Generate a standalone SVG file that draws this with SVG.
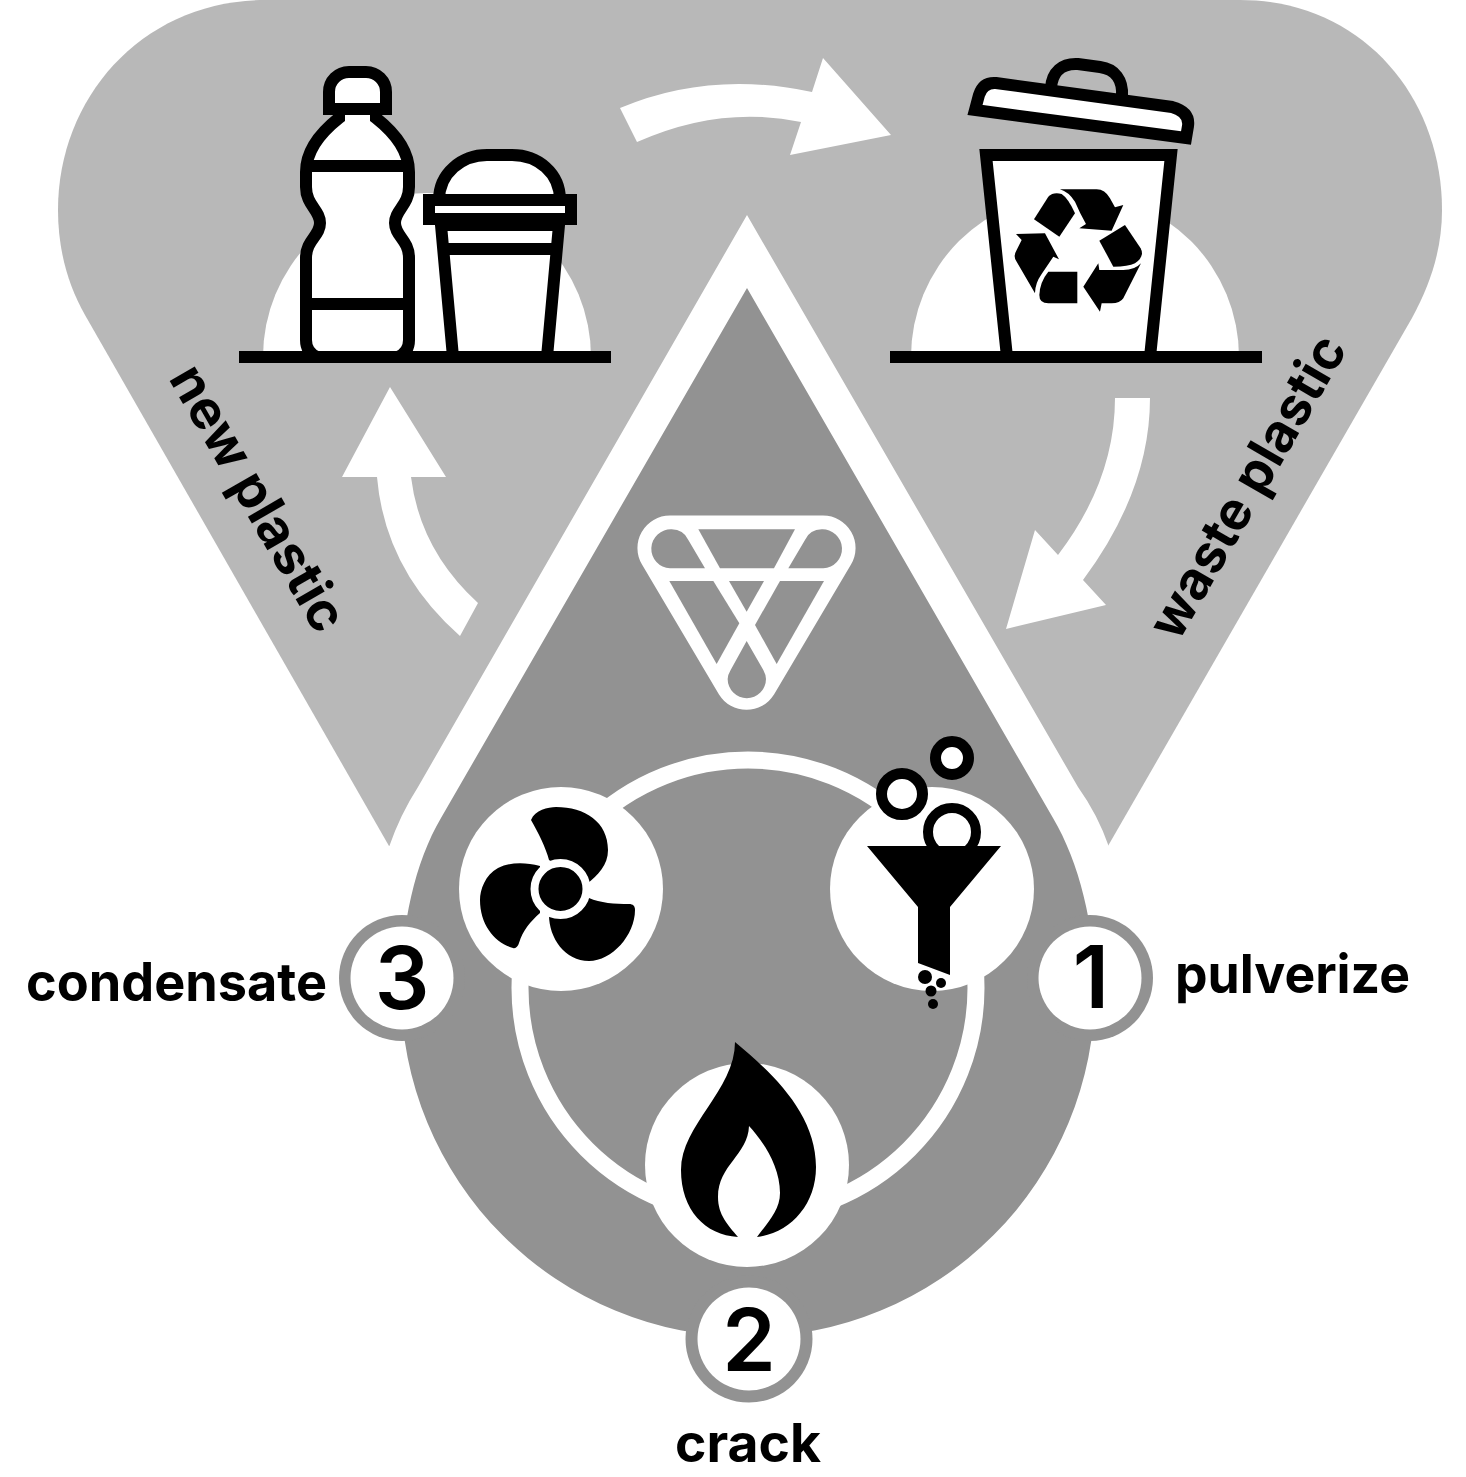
<svg xmlns="http://www.w3.org/2000/svg" width="1466" height="1477" viewBox="0 0 1466 1477">
<style>
.ln{fill:#fff;stroke:#000;stroke-width:12;stroke-linejoin:miter}
.nl{fill:none;stroke:#000;stroke-width:12}
.w{fill:#fff}
.k{fill:#000}
.d{fill:#929292}
text{font-family:"Inter","Liberation Sans",sans-serif;fill:#000}
.lab{font-size:53px;font-weight:700}
.num{font-size:86px;font-weight:600;text-anchor:middle}
</style>
<rect width="1466" height="1477" fill="#fff"/>
<g id="backdrop">
<path d="M265 0H1240C1360 0 1442 95 1442 210C1442 250 1430 285 1412 318L1108 846H389L85 315C68 285 58 250 58 210C58 95 145 0 265 0Z" fill="#b8b8b8"/>
<path d="M747 215L418 787Q400 815 389 847H1109Q1098 815 1078 787Z" fill="#fff"/>
<path d="M747 288L441 818C415 862 401 925 401 990A347 347 0 0 0 1095 990C1095 925 1079 862 1053 818Z" class="d"/>
</g>
<g id="connectors">
<circle cx="748" cy="988" r="228" fill="none" stroke="#fff" stroke-width="17"/>
<path class="w" d="M620 108Q710 70 812 92L823 58L891 135L790 155L801 122Q720 105 637 142Z"/>
<path class="w" d="M1115 398H1150Q1150 490 1083 580L1106 605L1006 629L1035 530L1058 555Q1115 480 1115 398Z"/>
<path class="w" d="M390 387L446 477H411Q420 550 478 603L460 636Q385 570 377 477H342Z"/>
</g>
<g id="new-plastic">
<path class="w" d="M263 357A164 164 0 0 1 591 357Z"/>
<path class="ln" d="M339 109V118C320 133 306 150 306 172V187C306 205 320 210 320 223C320 236 306 240 306 258V340Q306 352 317 357H398Q409 352 409 340V258C409 240 395 236 395 223C395 210 409 205 409 187V172C409 150 395 133 376 118V109Z"/>
<path class="nl" d="M306 166H409M306 304H409"/>
<path class="ln" d="M329 109V92A20 20 0 0 1 349 72H366A20 20 0 0 1 386 92V109Z"/>
<path class="ln" d="M441 225L453 357H547L559 225Z"/>
<path class="nl" d="M444 249H556"/>
<path class="ln" d="M439 200C439 173 462 155 487 155H512C538 155 560 173 560 200Z"/>
<rect class="ln" x="429" y="200" width="142" height="19"/>
<path class="nl" d="M239 357H611"/>
<text class="lab" transform="translate(168 378) rotate(60)" textLength="298" lengthAdjust="spacingAndGlyphs">new plastic</text>
</g>
<g id="waste-plastic">
<path class="w" d="M911 357A164 164 0 0 1 1239 357Z"/>
<path class="ln" d="M986 155H1171L1150 357H1007Z"/>
<path class="nl" d="M890 357H1262"/>
<path class="nl" d="M1051 88C1052 72 1062 63 1078 64L1100 67C1115 69 1123 80 1122 96"/>
<path class="ln" d="M975 110L979 95Q983 82 996 83L1172 107Q1190 112 1188 126L1186 138Z"/>
<g transform="translate(880 50) scale(.3333)" class="k">
<path d="M462 508L505 440Q520 425 545 432Q565 445 585 490L538 560Z"/>
<path d="M540 418H650Q675 418 690 445L705 472L730 465L695 542L598 535L618 522Q600 490 585 455Q565 425 540 418Z"/>
<path d="M735 525L782 595Q795 620 765 640Q745 650 700 650L658 572Z"/>
<path d="M783 640L730 745Q720 760 695 760H665L660 785L610 710L655 640L658 660H730Q765 660 783 640Z"/>
<path d="M592 665V760H505Q478 760 478 735Q480 695 505 665Z"/>
<path d="M465 730L410 635Q398 620 410 600L425 570L408 552L495 550L537 628L520 620L485 672Q465 700 465 730Z"/>
</g>
<text class="lab" transform="translate(1178 643) rotate(-60)" textLength="340" lengthAdjust="spacingAndGlyphs">waste plastic</text>
</g>
<g id="logo">
<path class="w" d="M670 515.500H823A32.500 32.500 0 0 1 851 564.600L774 694.600A32.500 32.500 0 0 1 719 694.600L642 564.600A32.500 32.500 0 0 1 670 515.500Z"/>
<g transform="translate(620 500) scale(.3333)" class="d">
<path d="M155 88Q190 88 205 120L255 205H150A58 58 0 0 1 155 88Z"/>
<path d="M235 88H525L462 205H300Z"/>
<path d="M605 88Q570 88 555 120L505 205H610A58 58 0 0 0 605 88Z"/>
<path d="M148 243H280L358 370L290 492Z"/>
<path d="M327 243H432L380 335Z"/>
<path d="M480 243H612L470 492L405 375Z"/>
<path d="M380 423L430 510Q438 525 438 537A57 57 0 0 1 323 537Q323 525 332 510Z"/>
</g>
</g>
<g id="step-pulverize">
<circle class="w" cx="932" cy="889" r="102"/>
<circle cx="902" cy="794" r="20.500" fill="#fff" stroke="#000" stroke-width="11"/>
<circle cx="952" cy="758" r="16.500" fill="#fff" stroke="#000" stroke-width="11"/>
<circle cx="952" cy="832" r="24" fill="#fff" stroke="#000" stroke-width="10"/>
<path class="k" d="M867 846H1001L950 907V975L918 963V907Z"/>
<circle class="k" cx="925" cy="977" r="7"/>
<circle class="k" cx="941" cy="983" r="5"/>
<circle class="k" cx="931" cy="991" r="5.500"/>
<circle class="k" cx="933" cy="1004" r="5"/>
<circle cx="1090" cy="978" r="63" class="d"/>
<circle cx="1090" cy="978" r="51.500" class="w"/>
<text class="num" x="1091" y="1008">1</text>
<text class="lab" x="1175" y="993" textLength="235" lengthAdjust="spacingAndGlyphs">pulverize</text>
</g>
<g id="step-crack">
<circle class="w" cx="747" cy="1165" r="102"/>
<path class="k" d="M735 1042C775 1075 816 1115 816 1167C816 1205 790 1233 757 1237C768 1222 780 1210 780 1193C780 1165 762 1140 749 1126C748 1155 718 1165 718 1197C718 1215 728 1225 738 1237C705 1235 681 1210 681 1170C681 1125 735 1090 735 1042Z"/>
<circle cx="749" cy="1339" r="63.500" class="d"/>
<circle cx="749" cy="1339" r="51.500" class="w"/>
<text class="num" x="749" y="1371">2</text>
<text class="lab" x="675" y="1462" textLength="146" lengthAdjust="spacingAndGlyphs">crack</text>
</g>
<g id="step-condensate">
<circle class="w" cx="561" cy="889" r="102"/>
<path class="k" d="M531 820C535 810 548 807 556 807C585 807 608 822 608 850C608 865 598 875 587 884L549 860C546 848 538 832 531 820Z"/>
<path class="k" d="M540 866C525 862 510 862 498 868C485 875 480 890 480 900C480 925 495 943 513 948C516 949 518 946 519 943C523 930 530 922 540 913Z"/>
<path class="k" d="M589 898C600 903 615 904 629 904C633 904 635 906 635 910C635 935 612 961 589 961C565 961 549 938 549 915Z"/>
<circle cx="560.500" cy="889" r="26" fill="#000" stroke="#fff" stroke-width="8"/>
<circle cx="402" cy="978" r="63" class="d"/>
<circle cx="402" cy="978" r="51.500" class="w"/>
<text class="num" x="402" y="1009">3</text>
<text class="lab" x="26" y="1001" textLength="301" lengthAdjust="spacingAndGlyphs">condensate</text>
</g>
</svg>
